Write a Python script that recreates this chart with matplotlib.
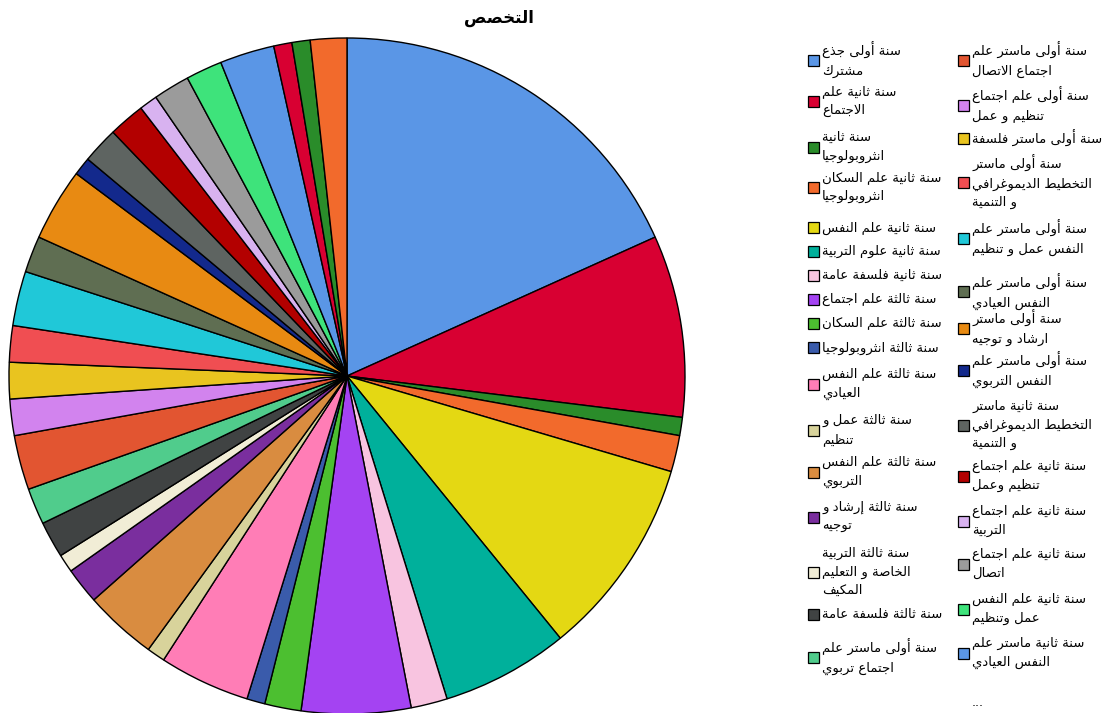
import matplotlib
matplotlib.use("Agg")
import matplotlib.pyplot as plt
from matplotlib.patches import Rectangle

title = "التخصص"

categories = [
    "سنة أولى جذع\nمشترك",
    "سنة ثانية علم\nالاجتماع",
    "سنة ثانية\nانثروبولوجيا",
    "سنة ثانية علم السكان\nانثروبولوجيا",
    "سنة ثانية علم النفس",
    "سنة ثانية علوم التربية",
    "سنة ثانية فلسفة عامة",
    "سنة ثالثة علم اجتماع",
    "سنة ثالثة علم السكان",
    "سنة ثالثة انثروبولوجيا",
    "سنة ثالثة علم النفس\nالعيادي",
    "سنة ثالثة عمل و\nتنظيم",
    "سنة ثالثة علم النفس\nالتربوي",
    "سنة ثالثة إرشاد و\nتوجيه",
    "سنة ثالثة التربية\nالخاصة و التعليم\nالمكيف",
    "سنة ثالثة فلسفة عامة",
    "سنة أولى ماستر علم\nاجتماع تربوي",
    "سنة أولى ماستر علم\nاجتماع الاتصال",
    "سنة أولى علم اجتماع\nتنظيم و عمل",
    "سنة أولى ماستر فلسفة",
    "سنة أولى ماستر\nالتخطيط الديموغرافي\nو التنمية",
    "سنة أولى ماستر علم\nالنفس عمل و تنظيم",
    "سنة أولى ماستر علم\nالنفس العيادي",
    "سنة أولى ماستر\nارشاد و توجيه",
    "سنة أولى ماستر علم\nالنفس التربوي",
    "سنة ثانية ماستر\nالتخطيط الديموغرافي\nو التنمية",
    "سنة ثانية علم اجتماع\nتنظيم وعمل",
    "سنة ثانية علم اجتماع\nالتربية",
    "سنة ثانية علم اجتماع\nاتصال",
    "سنة ثانية علم النفس\nعمل وتنظيم",
    "سنة ثانية ماستر علم\nالنفس العيادي",
    "سنة ثانية ماستر علم\nالنفس التربوي",
    "سنة ثانية ماستر\nارشاد و توجيه",
    "سنة ثانية ماستر فلسفة",
]
counts = [21, 10, 1, 2, 11, 7, 2, 6, 2, 1, 5, 1, 4, 2, 1, 2, 2,
          3, 2, 2, 2, 3, 2, 4, 1, 2, 2, 1, 2, 2, 3, 1, 1, 2]
shown = 31  # entries listed in the legend, the rest is "..."

palette = ["#5A96E6", "#D80032", "#2A8C2A", "#F26A2C", "#E4D813", "#00B09B",
           "#F8C4E0", "#A443F2", "#4CBF30", "#3A5BAB", "#FF7DB6", "#D8D39B",
           "#D98C40", "#7A2E9E", "#F1EDD6", "#404343", "#50CC8C", "#E25531",
           "#D283EE", "#E9C41F", "#F04E52", "#20C8D8", "#5F6E52", "#E88A12",
           "#13298C", "#5E6461", "#B30000", "#D8B2F0", "#9B9B9B", "#3EE37B"]
colors = [palette[i % len(palette)] for i in range(len(counts))]

# legend rows (pixel y of each marker), two columns
col1_y = [60, 101, 147, 187, 228, 251, 275, 299, 323, 348, 384, 430, 472, 517, 572, 614, 657]
col2_y = [60, 105, 138, 182, 238, 292, 328, 370, 425, 476, 521, 564, 609, 653]

# --- arabic contextual shaping (isolated, final, initial, medial) ---
FORMS = {
    "ء": (0xFE80,), "آ": (0xFE81, 0xFE82), "أ": (0xFE83, 0xFE84),
    "ؤ": (0xFE85, 0xFE86), "إ": (0xFE87, 0xFE88),
    "ئ": (0xFE89, 0xFE8A, 0xFE8B, 0xFE8C), "ا": (0xFE8D, 0xFE8E),
    "ب": (0xFE8F, 0xFE90, 0xFE91, 0xFE92), "ة": (0xFE93, 0xFE94),
    "ت": (0xFE95, 0xFE96, 0xFE97, 0xFE98), "ث": (0xFE99, 0xFE9A, 0xFE9B, 0xFE9C),
    "ج": (0xFE9D, 0xFE9E, 0xFE9F, 0xFEA0), "ح": (0xFEA1, 0xFEA2, 0xFEA3, 0xFEA4),
    "خ": (0xFEA5, 0xFEA6, 0xFEA7, 0xFEA8), "د": (0xFEA9, 0xFEAA),
    "ذ": (0xFEAB, 0xFEAC), "ر": (0xFEAD, 0xFEAE), "ز": (0xFEAF, 0xFEB0),
    "س": (0xFEB1, 0xFEB2, 0xFEB3, 0xFEB4), "ش": (0xFEB5, 0xFEB6, 0xFEB7, 0xFEB8),
    "ص": (0xFEB9, 0xFEBA, 0xFEBB, 0xFEBC), "ض": (0xFEBD, 0xFEBE, 0xFEBF, 0xFEC0),
    "ط": (0xFEC1, 0xFEC2, 0xFEC3, 0xFEC4), "ظ": (0xFEC5, 0xFEC6, 0xFEC7, 0xFEC8),
    "ع": (0xFEC9, 0xFECA, 0xFECB, 0xFECC), "غ": (0xFECD, 0xFECE, 0xFECF, 0xFED0),
    "ف": (0xFED1, 0xFED2, 0xFED3, 0xFED4), "ق": (0xFED5, 0xFED6, 0xFED7, 0xFED8),
    "ك": (0xFED9, 0xFEDA, 0xFEDB, 0xFEDC), "ل": (0xFEDD, 0xFEDE, 0xFEDF, 0xFEE0),
    "م": (0xFEE1, 0xFEE2, 0xFEE3, 0xFEE4), "ن": (0xFEE5, 0xFEE6, 0xFEE7, 0xFEE8),
    "ه": (0xFEE9, 0xFEEA, 0xFEEB, 0xFEEC), "و": (0xFEED, 0xFEEE),
    "ى": (0xFEEF, 0xFEF0), "ي": (0xFEF1, 0xFEF2, 0xFEF3, 0xFEF4),
}
LAM_ALEF = {"آ": (0xFEF5, 0xFEF6), "أ": (0xFEF7, 0xFEF8),
            "إ": (0xFEF9, 0xFEFA), "ا": (0xFEFB, 0xFEFC)}


def shape_line(line):
    out = []
    i, n = 0, len(line)
    while i < n:
        ch = line[i]
        f = FORMS.get(ch)
        if f is None:
            out.append(ch)
            i += 1
            continue
        prev = FORMS.get(line[i - 1]) if i > 0 else None
        joins_prev = prev is not None and len(prev) == 4
        if ch == "ل" and i + 1 < n and line[i + 1] in LAM_ALEF:
            iso, fin = LAM_ALEF[line[i + 1]]
            out.append(chr(fin if joins_prev else iso))
            i += 2
            continue
        nxt = FORMS.get(line[i + 1]) if i + 1 < n else None
        joins_next = len(f) == 4 and nxt is not None and len(nxt) > 1
        if len(f) == 1:
            code = f[0]
        elif joins_prev and joins_next:
            code = f[3]
        elif joins_prev:
            code = f[1]
        elif joins_next:
            code = f[2]
        else:
            code = f[0]
        out.append(chr(code))
        i += 1
    return "".join(reversed(out))


def ar(text):
    return "\n".join(shape_line(l) for l in text.split("\n"))


W, H = 1107, 713
fig = plt.figure(figsize=(W / 100, H / 100), dpi=100)
plt.rcParams['font.family'] = ['DejaVu Sans']

# pie: centre (347, 376) px, radius 338 px
cx, cy, r = 347, 376, 338
ax = fig.add_axes([(cx - r) / W, (H - cy - r) / H, 2 * r / W, 2 * r / H])
ax.pie(counts, colors=colors, startangle=90, counterclock=False, radius=1,
       wedgeprops=dict(edgecolor="black", linewidth=1.0))
ax.set_xlim(-1, 1)
ax.set_ylim(-1, 1)
ax.axis("off")

fig.text(499 / W, 1 - 18 / H, ar(title), ha="center", va="center",
         fontsize=12, fontweight="bold")

# legend
def legend_entry(x, y, label, color):
    fig.add_artist(Rectangle(((x - 5.5) / W, 1 - (y + 5.5) / H), 11 / W, 11 / H,
                             transform=fig.transFigure, facecolor=color,
                             edgecolor="black", linewidth=0.9))
    fig.text((x + 9) / W, 1 - y / H, ar(label), ha="left", va="center",
             fontsize=9.5, linespacing=1.55)


for k, y in enumerate(col1_y):
    legend_entry(813, y, categories[k], colors[k])
for k, y in enumerate(col2_y):
    j = len(col1_y) + k
    if j < shown:
        legend_entry(963, y, categories[j], colors[j])

fig.text(978 / W, 1 - 703 / H, "...", ha="center", va="center", fontsize=9)

fig.savefig("out.png", dpi=100)
